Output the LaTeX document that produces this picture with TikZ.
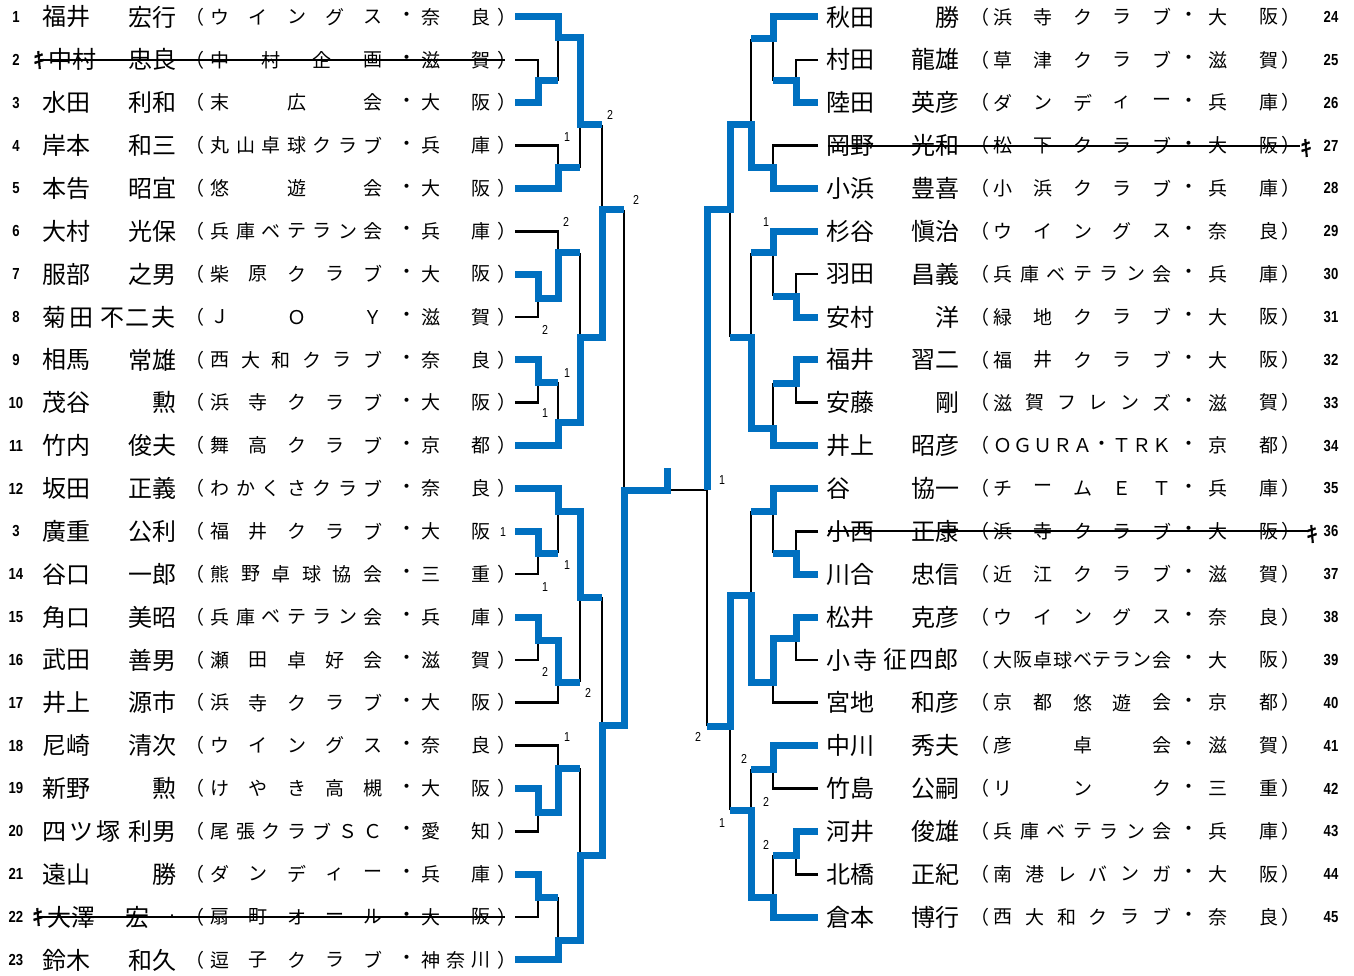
\documentclass[tikz,border=0pt]{standalone}
\usepackage{fontspec}
\newfontfamily\cjk{Noto Sans CJK JP}
\newfontfamily\kifont[FakeBold=2.5]{Noto Sans CJK JP}
\newfontfamily\numfont[FakeStretch=0.82]{Liberation Sans}
\definecolor{winblue}{RGB}{0,112,192}
% spread a list of characters evenly between two x positions
\newcommand\spread[5]{%
  \foreach \chr [count=\kk] in #2 {\xdef\nchars{\kk}}%
  \foreach \chr [count=\kk] in #2 {%
    \pgfmathsetmacro\xx{#4+(\kk-1)*(#5-#4)/max(\nchars-1,1)}%
    \node[club] (#1-\kk) at (\xx,#3) {\chr};}%
}
\begin{document}
\begin{tikzpicture}[x=1pt,y=-1pt,line cap=butt,line join=miter,
  win/.style={draw=winblue,line width=7pt},
  lose/.style={draw=black,line width=2.6pt},
  strike/.style={draw=black,line width=1.2pt},
  txt/.style={inner sep=0pt,outer sep=0pt},
  player/.style={txt,font=\cjk\fontsize{24}{24}\selectfont},
  club/.style={txt,font=\cjk\fontsize{19}{19}\selectfont},
  kimark/.style={txt,font=\kifont\fontsize{22}{22}\selectfont},
  entryno/.style={txt,font=\numfont\bfseries\fontsize{16}{16}\selectfont},
  score/.style={txt,font=\numfont\fontsize{13}{13}\selectfont}]
\useasboundingbox (0,0) rectangle (1354,976);

% left entries
\foreach \nm/\sx/\sn/\gn/\cl/\pr [count=\i] in {
  1/42/福井/宏行/{ウ,イ,ン,グ,ス}/{奈,良},
  2/48/中村/忠良/{中,村,企,画}/{滋,賀},
  3/42/水田/利和/{末,広,会}/{大,阪},
  4/42/岸本/和三/{丸,山,卓,球,ク,ラ,ブ}/{兵,庫},
  5/42/本告/昭宜/{悠,遊,会}/{大,阪},
  6/42/大村/光保/{兵,庫,ベ,テ,ラ,ン,会}/{兵,庫},
  7/42/服部/之男/{柴,原,ク,ラ,ブ}/{大,阪},
  8/42/{菊\kern3pt 田}/{不\kern2pt 二\kern2pt 夫}/{Ｊ,Ｏ,Ｙ}/{滋,賀},
  9/42/相馬/常雄/{西,大,和,ク,ラ,ブ}/{奈,良},
  10/42/茂谷/勲/{浜,寺,ク,ラ,ブ}/{大,阪},
  11/42/竹内/俊夫/{舞,高,ク,ラ,ブ}/{京,都},
  12/42/坂田/正義/{わ,か,く,さ,ク,ラ,ブ}/{奈,良},
  3/42/廣重/公利/{福,井,ク,ラ,ブ}/{大,阪},
  14/42/谷口/一郎/{熊,野,卓,球,協,会}/{三,重},
  15/42/角口/美昭/{兵,庫,ベ,テ,ラ,ン,会}/{兵,庫},
  16/42/武田/善男/{瀬,田,卓,好,会}/{滋,賀},
  17/42/井上/源市/{浜,寺,ク,ラ,ブ}/{大,阪},
  18/42/尼崎/清次/{ウ,イ,ン,グ,ス}/{奈,良},
  19/42/新野/勲/{け,や,き,高,槻}/{大,阪},
  20/42/{四\kern3pt ツ\kern3pt 塚}/利男/{尾,張,ク,ラ,ブ,Ｓ,Ｃ}/{愛,知},
  21/42/遠山/勝/{ダ,ン,デ,ィ,ー}/{兵,庫},
  22/47/大澤/{宏\kern27pt}/{扇,町,オ,ー,ル}/{大,阪},
  23/42/鈴木/和久/{逗,子,ク,ラ,ブ}/{神,奈,川}} {
  \pgfmathsetmacro\yy{17+(\i-1)*42.86}
  \node[entryno] (no\i) at (16,\yy) {\nm};
  \node[player,anchor=west] (sn\i) at (\sx,\yy) {\sn};
  \node[player,anchor=east] (gn\i) at (176,\yy) {\gn};
  \node[club] (op\i) at (195,\yy) {（};
  \spread{cl\i}{\cl}{\yy}{220}{373}
  \node[club] (dot\i) at (407,\yy) {・};
  \spread{pr\i}{\pr}{\yy}{431}{481}
  \ifnum\i=13 \else \node[club] (cp\i) at (507,\yy) {）}; \fi
  \coordinate (L\i) at (515,\yy);
}

% right entries
\foreach \sn/\gn/\cl/\pr [count=\i from 24] in {
  秋田/勝/{浜,寺,ク,ラ,ブ}/{大,阪},
  村田/龍雄/{草,津,ク,ラ,ブ}/{滋,賀},
  陸田/英彦/{ダ,ン,デ,ィ,ー}/{兵,庫},
  岡野/光和/{松,下,ク,ラ,ブ}/{大,阪},
  小浜/豊喜/{小,浜,ク,ラ,ブ}/{兵,庫},
  杉谷/愼治/{ウ,イ,ン,グ,ス}/{奈,良},
  羽田/昌義/{兵,庫,ベ,テ,ラ,ン,会}/{兵,庫},
  安村/洋/{緑,地,ク,ラ,ブ}/{大,阪},
  福井/習二/{福,井,ク,ラ,ブ}/{大,阪},
  安藤/剛/{滋,賀,フ,レ,ン,ズ}/{滋,賀},
  井上/昭彦/{Ｏ,Ｇ,Ｕ,Ｒ,Ａ,・,Ｔ,Ｒ,Ｋ}/{京,都},
  谷/協一/{チ,ー,ム,Ｅ,Ｔ}/{兵,庫},
  小西/正康/{浜,寺,ク,ラ,ブ}/{大,阪},
  川合/忠信/{近,江,ク,ラ,ブ}/{滋,賀},
  松井/克彦/{ウ,イ,ン,グ,ス}/{奈,良},
  {小\kern3pt 寺}/{征\kern2pt 四\kern2pt 郎}/{大,阪,卓,球,ベ,テ,ラ,ン,会}/{大,阪},
  宮地/和彦/{京,都,悠,遊,会}/{京,都},
  中川/秀夫/{彦,卓,会}/{滋,賀},
  竹島/公嗣/{リ,ン,ク}/{三,重},
  河井/俊雄/{兵,庫,ベ,テ,ラ,ン,会}/{兵,庫},
  北橋/正紀/{南,港,レ,バ,ン,ガ}/{大,阪},
  倉本/博行/{西,大,和,ク,ラ,ブ}/{奈,良}} {
  \pgfmathsetmacro\yy{17+(\i-24)*42.86}
  \node[entryno] (no\i) at (1331,\yy) {\i};
  \node[player,anchor=west] (sn\i) at (826,\yy) {\sn};
  \node[player,anchor=east] (gn\i) at (959,\yy) {\gn};
  \node[club] (op\i) at (980,\yy) {（};
  \spread{cl\i}{\cl}{\yy}{1003}{1162}
  \node[club] (dot\i) at (1189,\yy) {・};
  \spread{pr\i}{\pr}{\yy}{1218}{1269}
  \node[club] (cp\i) at (1291,\yy) {）};
  \coordinate (R\i) at (818,\yy);
}

% withdrawals
\draw[strike] (40,60) -- (505,60);
\node[kimark] (ki2) at (39,60) {ｷ};
\draw[strike] (38,917) -- (505,917);
\node[kimark] (ki22) at (38,917) {ｷ};
\node[club,font=\cjk\fontsize{10}{10}\selectfont] (dt22) at (172,917) {・};
\draw[strike] (828,146) -- (1300,146);
\node[kimark] (ki27) at (1306,148) {ｷ};
\draw[strike] (828,531) -- (1308,531);
\node[kimark] (ki36) at (1312,534) {ｷ};

% losing lines
\draw[lose] (L2) -| (538,81);
\draw[lose] (558,81) -- (558,38);
\draw[lose] (602,125) -- (602,210);
\draw[lose] (L4) -| (558,168);
\draw[lose] (580,168) -- (580,125);
\draw[lose] (L6) -| (558,253);
\draw[lose] (580,253) -- (580,337);
\draw[lose] (L8) -| (538,298);
\draw[lose] (558,382) -- (558,422);
\draw[lose] (L10) -| (538,382);
\draw[lose] (624,210) -- (624,490);
\draw[lose] (602,597) -- (602,725);
\draw[lose] (558,553) -- (558,511);
\draw[lose] (L14) -| (538,553);
\draw[lose] (580,682) -- (580,597);
\draw[lose] (L16) -| (538,640);
\draw[lose] (L17) -| (558,682);
\draw[lose] (L18) -| (558,768);
\draw[lose] (580,768) -- (580,855);
\draw[lose] (L20) -| (538,812);
\draw[lose] (558,897) -- (558,940);
\draw[lose] (L22) -| (538,897);
\draw[lose] (707,490) -- (667,490);
\draw[lose] (751,39) -- (751,125);
\draw[lose] (R25) -| (796,81);
\draw[lose] (773,81) -- (773,39);
\draw[lose] (R27) -| (773,168);
\draw[lose] (751,253) -- (751,337);
\draw[lose] (R30) -| (796,296);
\draw[lose] (773,296) -- (773,253);
\draw[lose] (773,383) -- (773,428);
\draw[lose] (R33) -| (796,383);
\draw[lose] (730,337) -- (730,210);
\draw[lose] (751,511) -- (751,595);
\draw[lose] (R36) -| (796,553);
\draw[lose] (773,553) -- (773,511);
\draw[lose] (707,726) -- (707,490);
\draw[lose] (R39) -| (796,638);
\draw[lose] (R40) -| (773,682);
\draw[lose] (751,769) -- (751,810);
\draw[lose] (R42) -| (773,769);
\draw[lose] (773,855) -- (773,897);
\draw[lose] (R44) -| (796,855);
\draw[lose] (730,810) -- (730,726);

% winning lines
\draw[win] (L1) -| (558,38) -| (580,125) -- (602,125);
\draw[win] (L3) -| (538,81) -- (558,81);
\draw[win] (L5) -| (558,168) -- (580,168);
\draw[win] (L7) -| (538,298) -| (558,253) -- (580,253);
\draw[win] (L9) -| (538,382) -- (558,382);
\draw[win] (L11) -| (558,422) -| (580,337) -| (602,210) -- (624,210);
\draw[win] (L12) -| (558,511) -| (580,597) -- (602,597);
\draw[win] (L13) -| (538,553) -- (558,553);
\draw[win] (L15) -| (538,640) -| (558,682) -- (580,682);
\draw[win] (L19) -| (538,812) -| (558,768) -- (580,768);
\draw[win] (L21) -| (538,897) -- (558,897);
\draw[win] (L23) -| (558,940) -| (580,855) -| (602,725) -| (624,490) -| (667,468);
\draw[win] (R24) -| (773,39) -- (751,39);
\draw[win] (R26) -| (796,81) -- (773,81);
\draw[win] (R28) -| (773,168) -| (751,125) -| (730,210) -| (707,490);
\draw[win] (R29) -| (773,253) -- (751,253);
\draw[win] (R31) -| (796,296) -- (773,296);
\draw[win] (R32) -| (796,383) -- (773,383);
\draw[win] (R34) -| (773,428) -| (751,337) -- (730,337);
\draw[win] (R35) -| (773,511) -- (751,511);
\draw[win] (R37) -| (796,553) -- (773,553);
\draw[win] (R38) -| (796,638) -| (773,682) -| (751,595) -| (730,726) -- (707,726);
\draw[win] (R41) -| (773,769) -- (751,769);
\draw[win] (R43) -| (796,855) -- (773,855);
\draw[win] (R45) -| (773,897) -| (751,810) -- (730,810);

% game scores
\foreach \x/\y/\t [count=\j] in {610/115/2, 567/137/1, 636/200/2, 566/222/2,
  545/330/2, 567/373/1, 545/413/1, 503/532/1, 567/565/1, 545/587/1,
  545/672/2, 588/693/2, 567/737/1, 766/222/1, 722/480/1, 698/737/2,
  744/759/2, 766/802/2, 722/823/1, 766/845/2}
  \node[score] (sc\j) at (\x,\y) {\t};
\end{tikzpicture}
\end{document}
